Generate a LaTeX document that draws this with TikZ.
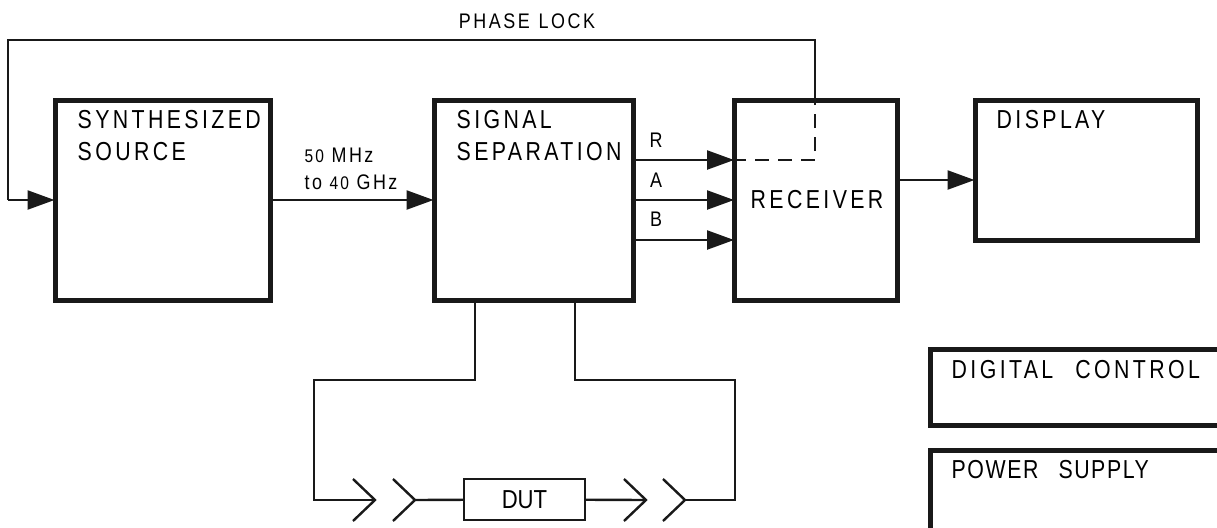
\documentclass[tikz,border=0pt]{standalone}
\usepackage{fontspec}
\setmainfont{Liberation Sans}
\usetikzlibrary{arrows.meta, calc}

\begin{document}
\begin{tikzpicture}[
  block/.style={rectangle, draw=black!90, line width=0.05cm, fill=none, inner sep=0pt},
  dutbox/.style={rectangle, draw=black!90, line width=0.024cm, inner sep=0pt,
                 minimum width=1.21cm, minimum height=0.41cm,
                 font=\fontsize{7.4}{8}\selectfont\addfontfeature{FakeStretch=0.85}},
  blocktext/.style={anchor=north west, inner sep=0pt, align=left,
                    font=\fontsize{7.4}{9.1}\selectfont\addfontfeature{FakeStretch=0.82,LetterSpace=13}},
  smalltext/.style={inner sep=0pt,
                    font=\fontsize{6}{7.6}\selectfont\addfontfeature{FakeStretch=0.85,LetterSpace=12}},
  wire/.style={black!90, line width=0.024cm},
  flow/.style={wire, shorten >=-0.02cm, -{Triangle[length=0.27cm, width=0.19cm]}}
]
\useasboundingbox (0,0) rectangle (12.17,5.27);

% Main blocks
\node[block, minimum width=2.15cm, minimum height=2.0cm] (source) at (1.625,3.27) {};
\node[block, minimum width=1.99cm, minimum height=2.0cm] (sigsep) at (5.335,3.27) {};
\node[block, minimum width=1.63cm, minimum height=2.0cm] (receiver) at (8.16,3.27) {};
\node[block, minimum width=2.22cm, minimum height=1.4cm] (display) at (10.86,3.57) {};
\node[block, minimum width=3.1cm, minimum height=0.76cm] (digital) at (10.85,1.40) {};
\node[block, minimum width=3.1cm, minimum height=0.86cm] (power) at (10.85,0.34) {};

% Block labels
\node[blocktext] (sourcetext) at (0.77,4.17) {SYNTHESIZED\\SOURCE};
\node[blocktext] (sigseptext) at (4.56,4.17) {SIGNAL\\SEPARATION};
\node[blocktext, anchor=west] (receivertext) at (7.50,3.27) {RECEIVER};
\node[blocktext] (displaytext) at (9.96,4.17) {DISPLAY};
\node[blocktext] (digitaltext) at (9.51,1.67) {DIGITAL\hspace{0.22cm}CONTROL};
\node[blocktext] (powertext) at (9.51,0.67) {\addfontfeature{LetterSpace=6}POWER\hspace{0.2cm}SUPPLY};
\node[smalltext] (phasetext) at (5.27,5.06) {PHASE\hspace{0.09cm}LOCK};

% Frequency range
\node[smalltext] (lowtext) at (3.39,3.72) {{\fontsize{5.2}{6}\selectfont 50} MHz};
\node[smalltext] (hightext) at (3.51,3.45) {to {\fontsize{5.2}{6}\selectfont 40} GHz};

% Tap points on the blocks
\coordinate (rout) at ($(sigsep.east)+(0,0.40)$);
\coordinate (aout) at (sigsep.east);
\coordinate (bout) at ($(sigsep.east)+(0,-0.40)$);
\coordinate (rin) at ($(receiver.west)+(0,0.40)$);
\coordinate (ain) at (receiver.west);
\coordinate (bin) at ($(receiver.west)+(0,-0.40)$);
\coordinate (recout) at ($(receiver.east)+(0,0.20)$);
\coordinate (dispin) at ($(display.west)+(0,-0.10)$);

% Channels
\draw[flow] (source) -- (sigsep);
\draw[flow] (rout) -- (rin);
\draw[flow] ($(aout)+(-0.05,0)$) -- (ain);
\draw[flow] (bout) -- (bin);
\draw[flow] (recout) -- (dispin);
\node[smalltext] (rtext) at (6.56,3.87) {R};
\node[smalltext] (atext) at (6.56,3.47) {A};
\node[smalltext] (btext) at (6.56,3.08) {B};

% Phase lock loop
\coordinate (lockcorner) at (8.15,3.67);
\coordinate (locktop) at (8.15,4.27);
\coordinate (lockhigh) at (8.15,4.87);
\coordinate (lockleft) at (0.08,4.87);
\coordinate (locklow) at (0.08,3.27);
\draw[wire, dash pattern=on 0.14cm off 0.09cm] (rin) -- (lockcorner) -- (locktop);
\draw[wire] (locktop) -- (lockhigh) -- (lockleft) -- (locklow);
\draw[flow] (locklow) -- (source);

% Test set below the separation block
\node[dutbox] (dut) at (5.245,0.275) {DUT};
\coordinate (tapl) at (4.75,2.27);
\coordinate (tapr) at (5.75,2.27);
\coordinate (c1) at (3.75,0.27);
\coordinate (c2) at (4.15,0.27);
\coordinate (c3) at (6.46,0.27);
\coordinate (c4) at (6.85,0.27);
\draw[wire] (tapl) -- (4.75,1.47) -- (3.14,1.47) -- (3.14,0.27) -- (c1);
\draw[wire] (c2) -- (dut);
\draw[wire] (dut) -- (c3);
\draw[wire] (c4) -- (7.35,0.27) -- (7.35,1.47) -- (5.75,1.47) -- (tapr);
\foreach \c in {c1,c2,c3,c4} {
  \draw[wire] ($(\c)+(-0.22,0.21)$) -- (\c) -- ($(\c)+(-0.22,-0.21)$);
}

\end{tikzpicture}
\end{document}
